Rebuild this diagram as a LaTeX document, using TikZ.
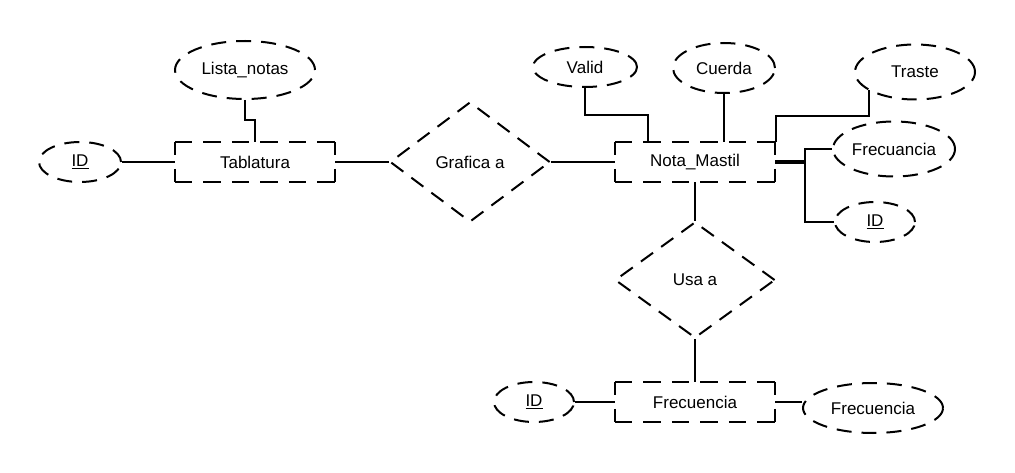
\documentclass[tikz,border=0pt]{standalone}
\usepackage{fontspec}
\setmainfont{Liberation Sans}
\usetikzlibrary{shapes.geometric,calc}
\tikzset{
  dsh/.style={dash pattern=on 15pt off 10pt},
  ent/.style={rectangle, minimum width=160pt, minimum height=40pt, inner sep=0pt},
  hedge/.style={line width=2pt, dash pattern=on 17.5pt off 11pt},
  vedge/.style={line width=2pt, dash pattern=on 13pt off 14pt},
  attr/.style={draw, dsh, line width=2pt, ellipse, inner sep=0pt},
  rel/.style={draw, dsh, line width=2pt, diamond, inner sep=0pt, minimum width=160pt},
  conn/.style={line width=2pt},
}
\begin{document}
\begin{tikzpicture}[x=1pt,y=-1pt,font=\fontsize{17}{20}\selectfont]
\useasboundingbox (0,0) rectangle (1015,473);
% entities
\node[ent] (tab) at (255,162) {Tablatura};
\node[ent] (nota) at (695,162) {Nota\_Mastil};
\node[ent] (frecE) at (695,402) {Frecuencia};
\foreach \n in {tab,nota,frecE}{
  \draw[hedge] (\n.north west) -- (\n.north east);
  \draw[hedge] (\n.south west) -- (\n.south east);
  \draw[vedge] (\n.north west) -- (\n.south west);
  \draw[vedge] (\n.north east) -- (\n.south east);
}
% relations
\node[rel, minimum height=120pt] (graf) at (470,162) {Grafica a};
\node[rel, minimum height=116pt] (usa) at (695,280) {Usa a};
% attributes
\node[attr, minimum width=82pt, minimum height=40pt] (idT) at (80,162) {\underline{ID}};
\node[attr, minimum width=140pt, minimum height=58pt] (lista) at (245,70) {Lista\_notas};
\node[attr, minimum width=104pt, minimum height=40pt] (valid) at (585,67) {Valid};
\node[attr, minimum width=102pt, minimum height=50pt] (cuerda) at (724,68) {Cuerda};
\node[attr, minimum width=120pt, minimum height=55pt] (traste) at (915,72) {Traste};
\node[attr, minimum width=122pt, minimum height=55pt] (frecA) at (894,149) {Frecuancia};
\node[attr, minimum width=80pt, minimum height=40pt] (idN) at (875,222) {\underline{ID}};
\node[attr, minimum width=80pt, minimum height=40pt] (idF) at (534,402) {\underline{ID}};
\node[attr, minimum width=140pt, minimum height=50pt] (frecB) at (873,408) {Frecuencia};
% connectors
\draw[conn] (idT.east) -- (tab.west);
\draw[conn] (lista.south) |- ([yshift=22pt]tab.north) -- (tab.north);
\draw[conn] (tab.east) -- (graf.west);
\draw[conn] (graf.east) -- (nota.west);
\draw[conn] (valid.south) |- ([xshift=-47pt,yshift=27pt]nota.north) -- ([xshift=-47pt]nota.north);
\draw[conn] (cuerda.south) -- (cuerda.south |- nota.north);
\draw[conn] ($(traste.center)+(-46,18)$) |- ([xshift=1pt,yshift=26pt]nota.north east) -- ([xshift=1pt]nota.north east);
\draw[line width=4pt] (nota.east) -- ++(30,0) coordinate (j);
\draw[conn] (j) |- (frecA.west);
\draw[conn] (j) |- (idN.west);
\draw[conn] (nota.south) -- (usa.north);
\draw[conn] (usa.south) -- (frecE.north);
\draw[conn] (idF.east) -- (frecE.west);
\draw[conn] (frecE.east) -- (frecE.east -| frecB.west);
\end{tikzpicture}
\end{document}
